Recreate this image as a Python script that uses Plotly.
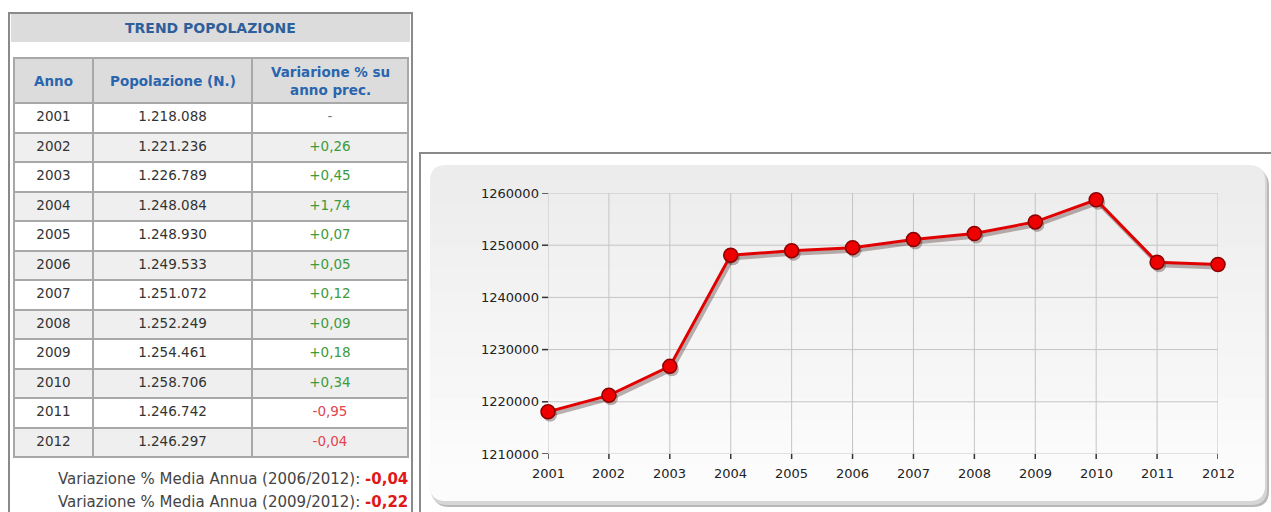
import plotly.graph_objects as go

# ---------------- data ----------------
anni = [2001, 2002, 2003, 2004, 2005, 2006, 2007, 2008, 2009, 2010, 2011, 2012]
popolazione = [1218088, 1221236, 1226789, 1248084, 1248930, 1249533,
               1251072, 1252249, 1254461, 1258706, 1246742, 1246297]
variazione = [None, 0.26, 0.45, 1.74, 0.07, 0.05, 0.12, 0.09, 0.18, 0.34, -0.95, -0.04]
intestazioni = ["Anno", "Popolazione (N.)", "Variarione % su<br>anno prec."]
titolo_tabella = "TREND POPOLAZIONE"
medie_periodi = ["2006/2012", "2009/2012"]
medie_valori = [-0.04, -0.22]
y_ticks = [1210000, 1220000, 1230000, 1240000, 1250000, 1260000]

W, H = 1271, 512


def px(x):
    return min(max(x, 0), W) / W


def py(y):
    return 1 - min(max(y, 0), H) / H


def fmt_pop(v):
    return f"{v:,}".replace(",", ".")


def fmt_var(v):
    if v is None:
        return "-"
    return (f"{v:+.2f}").replace(".", ",")


def col_var(v):
    if v is None:
        return "#777777"
    return "#3d9a3d" if v >= 0 else "#e0454f"


fig = go.Figure()

# ---------------- table ----------------
col_edges = [14, 93, 252, 408]
row_fill = ["#ffffff" if i % 2 == 0 else "#efefef" for i in range(len(anni))]
fig.add_trace(go.Table(
    domain=dict(x=[px(col_edges[0]), px(col_edges[-1])], y=[py(470), py(58)]),
    columnwidth=[col_edges[i + 1] - col_edges[i] for i in range(3)],
    header=dict(
        values=["", "", ""],
        fill_color="#dcdcdc",
        line=dict(color="#a8a8a8", width=2),
        font=dict(family="DejaVu Sans", size=13, color="#2a66ad"),
        align="center",
        height=45,
    ),
    cells=dict(
        values=[[str(a) for a in anni],
                [fmt_pop(p) for p in popolazione],
                [fmt_var(v) for v in variazione]],
        fill_color=[row_fill, row_fill, row_fill],
        line=dict(color="#a8a8a8", width=2),
        font=dict(family="DejaVu Sans", size=13.5,
                  color=[["#333333"] * len(anni), ["#333333"] * len(anni),
                         [col_var(v) for v in variazione]]),
        align="center",
        height=29.5,
    ),
))

shapes = []
# table outer frame (open at the bottom edge of the picture) + title bar
shapes.append(dict(type="rect", xref="paper", yref="paper",
                   x0=px(9), x1=px(412), y0=py(512), y1=py(13),
                   line=dict(width=0), fillcolor="#ffffff", layer="below"))
shapes.append(dict(type="path", xref="paper", yref="paper",
                   path=f"M {px(9)},{py(512)} L {px(9)},{py(13)} L {px(412)},{py(13)} L {px(412)},{py(512)}",
                   line=dict(color="#8a8a8a", width=2), layer="below"))
shapes.append(dict(type="rect", xref="paper", yref="paper",
                   x0=px(11), x1=px(410), y0=py(42), y1=py(14),
                   line=dict(width=0), fillcolor="#dcdcdc", layer="below"))

# chart frame (runs off the right and bottom of the picture)
shapes.append(dict(type="path", xref="paper", yref="paper",
                   path=f"M {px(420)},{py(512)} L {px(420)},{py(153)} L {px(1271)},{py(153)}",
                   line=dict(color="#8a8a8a", width=2), layer="below"))


def rounded(x0, y0, x1, y1, r):
    rx, ry = r / W, r / H
    X0, X1, Y0, Y1 = px(x0), px(x1), py(y0), py(y1)
    return (f"M {X0+rx},{Y0} L {X1-rx},{Y0} Q {X1},{Y0} {X1},{Y0-ry} "
            f"L {X1},{Y1+ry} Q {X1},{Y1} {X1-rx},{Y1} L {X0+rx},{Y1} "
            f"Q {X0},{Y1} {X0},{Y1+ry} L {X0},{Y0-ry} Q {X0},{Y0} {X0+rx},{Y0} Z")


# panel shadow
shapes.append(dict(type="path", xref="paper", yref="paper", path=rounded(433, 170, 1269, 507, 16),
                   fillcolor="#b8b8b8", line=dict(width=0), layer="below"))
shapes.append(dict(type="path", xref="paper", yref="paper", path=rounded(431, 167, 1267, 505, 16),
                   fillcolor="#d6d6d6", line=dict(width=0), layer="below"))
# panel
shapes.append(dict(type="path", xref="paper", yref="paper", path=rounded(430, 165, 1265, 501, 16),
                   fillcolor="#ececec", line=dict(width=0), layer="below"))
# gradient bands
n_b = 14
top_b, bot_b = 182, 485
c0, c1 = 0xec, 0xfc
for i in range(n_b):
    ya = top_b + (bot_b - top_b) * i / n_b
    yb = top_b + (bot_b - top_b) * (i + 1) / n_b
    c = int(round(c0 + (c1 - c0) * (i + 1) / n_b))
    shapes.append(dict(type="rect", xref="paper", yref="paper",
                       x0=px(430), x1=px(1265), y0=py(yb + 0.5), y1=py(ya),
                       fillcolor=f"rgb({c},{c},{c})", line=dict(width=0), layer="below"))
shapes.append(dict(type="path", xref="paper", yref="paper", path=rounded(430, 470, 1265, 501, 16),
                   fillcolor=f"rgb({c1},{c1},{c1})", line=dict(width=0), layer="below"))
shapes.append(dict(type="rect", xref="paper", yref="paper",
                   x0=px(430), x1=px(1265), y0=py(486), y1=py(470),
                   fillcolor=f"rgb({c1},{c1},{c1})", line=dict(width=0), layer="below"))

# ---------------- chart grid / ticks (drawn through the axis scales) ----------------
PLOT_L, PLOT_R, PLOT_T, PLOT_B = 548, 1218, 193, 454
GRID = "#c4c4c4"
TICK = "#333333"
for a in anni:
    shapes.append(dict(type="line", xref="x", yref="y domain", x0=a, x1=a, y0=0, y1=1,
                       line=dict(color=GRID, width=1), layer="below"))
    shapes.append(dict(type="line", xref="x", yref="paper", x0=a, x1=a,
                       y0=py(PLOT_B + 5), y1=py(PLOT_B),
                       line=dict(color=TICK, width=1.5), layer="below"))
for v in y_ticks:
    shapes.append(dict(type="line", xref="x domain", yref="y", x0=0, x1=1, y0=v, y1=v,
                       line=dict(color=GRID, width=1), layer="below"))
    shapes.append(dict(type="line", xref="paper", yref="y", x0=px(PLOT_L - 6), x1=px(PLOT_L),
                       y0=v, y1=v, line=dict(color=TICK, width=1.5), layer="below"))

axis_font = dict(family="DejaVu Sans", size=13, color="#222222")
annotations = [
    dict(text=f"<b>{titolo_tabella}</b>", xref="paper", yref="paper",
         x=px(210), y=py(28), showarrow=False, xanchor="center", yanchor="middle",
         font=dict(family="DejaVu Sans", size=14, color="#2e5f9a")),
]
for a in anni:
    annotations.append(dict(text=str(a), xref="x", yref="paper", x=a, y=py(PLOT_B + 19),
                            showarrow=False, xanchor="center", yanchor="middle",
                            font=axis_font))
for v in y_ticks:
    annotations.append(dict(text=str(v), xref="paper", yref="y", x=px(PLOT_L - 7), y=v,
                            showarrow=False, xanchor="right", yanchor="middle",
                            font=axis_font))
# column headers (centred vertically in the header row)
for i, h in enumerate(intestazioni):
    cx = (col_edges[i] + col_edges[i + 1]) / 2
    annotations.append(dict(
        text=f"<b>{h}</b>", xref="paper", yref="paper", x=px(cx), y=py(81),
        showarrow=False, xanchor="center", yanchor="middle", align="center",
        font=dict(family="DejaVu Sans", size=13.5, color="#2a66ad")))

for i, (per, val) in enumerate(zip(medie_periodi, medie_valori)):
    s = f"{val:.2f}".replace(".", ",")
    annotations.append(dict(
        text=f"Variazione % Media Annua ({per}): <span style='color:#e01818'><b>{s}</b></span>",
        xref="paper", yref="paper", x=px(410), y=py(479 + 23 * i),
        showarrow=False, xanchor="right", yanchor="middle",
        font=dict(family="DejaVu Sans", size=15, color="#444444")))

# ---------------- line chart ----------------
x_dom = [px(PLOT_L), px(PLOT_R)]
y_dom = [py(PLOT_B), py(PLOT_T)]
x_rng = [2001, 2012]
y_rng = [1210000, 1260000]
# drop shadow: same data on an overlaid axis pair whose range is shifted by a few pixels
sh_dx = (x_rng[1] - x_rng[0]) / (PLOT_L - PLOT_R) * 2.0       # 2 px to the right
sh_dy = (y_rng[1] - y_rng[0]) / (PLOT_B - PLOT_T) * 3.0        # 3 px down

# invisible trace on the main axes so that the reference axes exist
fig.add_trace(go.Scatter(
    x=anni, y=popolazione, mode="lines", line=dict(width=0, color="rgba(0,0,0,0)"),
    hoverinfo="skip", showlegend=False,
))
fig.add_trace(go.Scatter(
    x=anni, y=popolazione, mode="lines+markers", xaxis="x2", yaxis="y2",
    line=dict(color="rgba(40,0,0,0.30)", width=4),
    marker=dict(size=14, color="rgba(40,0,0,0.30)"),
    hoverinfo="skip", showlegend=False, cliponaxis=False,
))
fig.add_trace(go.Scatter(
    x=anni, y=popolazione, mode="lines+markers", xaxis="x3", yaxis="y3",
    line=dict(color="#e00000", width=3),
    marker=dict(size=14, color="#ee0000", line=dict(color="#8a0000", width=1.5)),
    showlegend=False, cliponaxis=False,
))

hidden = dict(visible=False, showgrid=False, zeroline=False, fixedrange=True)
fig.update_layout(
    width=W, height=H,
    margin=dict(l=0, r=0, t=0, b=0),
    paper_bgcolor="#ffffff",
    plot_bgcolor="rgba(0,0,0,0)",
    shapes=shapes,
    annotations=annotations,
    xaxis=dict(domain=x_dom, range=x_rng, **hidden),
    yaxis=dict(domain=y_dom, range=y_rng, **hidden),
    xaxis2=dict(overlaying="x", domain=x_dom, range=[x_rng[0] + sh_dx, x_rng[1] + sh_dx], **hidden),
    yaxis2=dict(overlaying="y", domain=y_dom, range=[y_rng[0] + sh_dy, y_rng[1] + sh_dy], **hidden),
    xaxis3=dict(overlaying="x", domain=x_dom, range=x_rng, **hidden),
    yaxis3=dict(overlaying="y", domain=y_dom, range=y_rng, **hidden),
)

fig.write_html(
    "out.html",
    config={"displayModeBar": False, "staticPlot": True},
    post_script=(
        "document.documentElement.style.overflow='hidden';"
        "document.body.style.margin='0';document.body.style.overflow='hidden';"
    ),
)
